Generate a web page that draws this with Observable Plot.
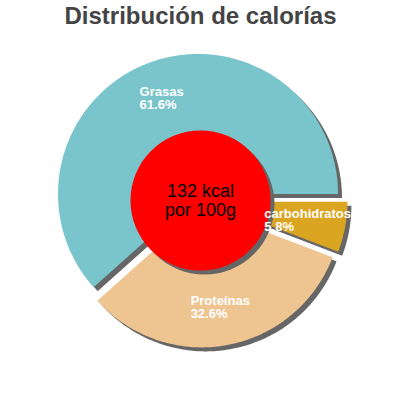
<!DOCTYPE html>
<html>
<head>
<meta charset="utf-8">
<script src="https://cdn.jsdelivr.net/npm/d3@7"></script>
<script src="https://cdn.jsdelivr.net/npm/@observablehq/plot@0.6"></script>
<style>
body { margin: 0; background: #fff; }
</style>
</head>
<body>
<div id="chart"></div>
<script>
const title = "Distribución de calorías";
const categories = ["Grasas", "Proteínas", "carbohidratos"];
const percents = [61.6, 32.6, 5.8];
const colors = ["#7ac4cc", "#eec591", "#daa520"];
const centerText = "132 kcal\npor 100g";

const R = 140, explode = 7, shadow = 4, labelR = 102, innerR = 70;
const total = d3.sum(percents);

// slices: counter-clockwise from 3 o'clock
let acc = 0;
const slices = categories.map((c, i) => {
  const a0 = acc / total * 2 * Math.PI;
  acc += percents[i];
  const a1 = acc / total * 2 * Math.PI;
  const mid = (a0 + a1) / 2;
  return {c, i, a0, a1, mid, ox: explode * Math.cos(mid), oy: -explode * Math.sin(mid)};
});

function poly(s, off) {
  const pts = [{x: s.ox + off, y: s.oy + off, c: s.c}];
  const n = Math.max(4, Math.ceil((s.a1 - s.a0) / (Math.PI / 180)));
  for (let k = 0; k <= n; k++) {
    const a = s.a0 + (s.a1 - s.a0) * k / n;
    pts.push({x: s.ox + off + R * Math.cos(a), y: s.oy + off - R * Math.sin(a), c: s.c});
  }
  pts.push({x: s.ox + off, y: s.oy + off, c: s.c});
  return pts;
}

const shadowPts = slices.flatMap(s => poly(s, shadow));
const slicePts = slices.flatMap(s => poly(s, 0));

const ctx = document.createElement("canvas").getContext("2d");
ctx.font = "bold 13px 'Liberation Sans'";
const labelData = slices.map(s => {
  const w = ctx.measureText(s.c).width;
  return {
    text: s.c + "\n" + percents[s.i].toFixed(1) + "%",
    x: s.ox + labelR * Math.cos(s.mid) - w / 2,
    y: s.oy - labelR * Math.sin(s.mid)
  };
});

const plot = Plot.plot({
  width: 400,
  height: 400,
  margin: 0,
  x: {domain: [-200, 200], range: [0, 400], axis: null},
  y: {domain: [-200, 200], range: [0, 400], axis: null},
  color: {domain: categories, range: colors},
  style: {fontFamily: "'Liberation Sans', Arial, sans-serif"},
  marks: [
    Plot.line(shadowPts, {x: "x", y: "y", z: "c", fill: "#666666", stroke: "none"}),
    Plot.line(slicePts, {x: "x", y: "y", z: "c", fill: "c", stroke: "none"}),
    Plot.dot([{x: 0, y: 0}], {x: "x", y: "y", r: innerR, fill: "#666666", dx: shadow, dy: shadow}),
    Plot.dot([{x: 0, y: 0}], {x: "x", y: "y", r: innerR, fill: "#ff0000"}),
    Plot.text(labelData, {x: "x", y: "y", text: "text", fill: "white", fontSize: 13, fontWeight: "bold", textAnchor: "start", lineAnchor: "middle", lineHeight: 1.0}),
    Plot.text([centerText], {x: () => 0, y: () => 0, text: d => d, fill: "black", fontSize: 18, lineAnchor: "middle", lineHeight: 1.05}),
    Plot.text([title], {frameAnchor: "top", text: d => d, fontSize: 24, fontWeight: "bold", fill: "#444444", dy: 6})
  ]
});
document.getElementById("chart").appendChild(plot);
</script>
</body>
</html>
